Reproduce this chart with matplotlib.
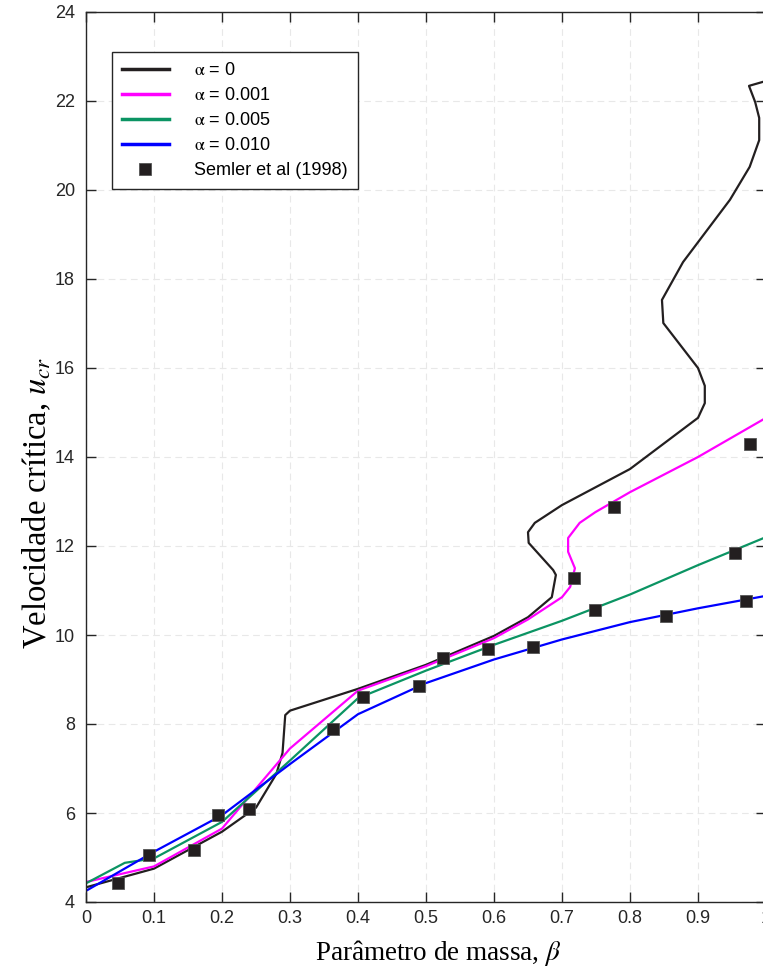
import matplotlib
matplotlib.use('Agg')
import matplotlib.pyplot as plt
import numpy as np

# dados
beta_a0 = [0, 0.1, 0.2, 0.25, 0.28, 0.289, 0.293, 0.3, 0.4, 0.5, 0.6, 0.65, 0.685, 0.691,
           0.687, 0.651, 0.65, 0.66, 0.70, 0.8, 0.9, 0.91, 0.91, 0.9, 0.849, 0.847, 0.878,
           0.947, 0.976, 0.99, 0.99, 0.984, 0.975, 1.0]
ucr_a0 = [4.33, 4.75, 5.58, 6.12, 6.88, 7.35, 8.2, 8.3, 8.79, 9.33, 9.98, 10.4, 10.85, 11.35,
          11.46, 12.07, 12.31, 12.52, 12.92, 13.73, 14.88, 15.21, 15.6, 16.0, 17.01, 17.53, 18.38,
          19.78, 20.52, 21.12, 21.62, 21.98, 22.34, 22.45]

beta_a1 = [0, 0.1, 0.2, 0.3, 0.4, 0.5, 0.6, 0.65, 0.7, 0.712, 0.719, 0.709, 0.709, 0.726,
           0.749, 0.8, 0.9, 1.0]
ucr_a1 = [4.45, 4.8, 5.65, 7.45, 8.75, 9.3, 9.93, 10.35, 10.85, 11.08, 11.5, 11.87, 12.18, 12.52,
          12.76, 13.21, 14.0, 14.88]

beta_a5 = [0, 0.057, 0.1, 0.2, 0.3, 0.4, 0.5, 0.6, 0.7, 0.8, 0.9, 1.0]
ucr_a5 = [4.42, 4.88, 4.98, 5.8, 7.18, 8.58, 9.2, 9.78, 10.32, 10.91, 11.57, 12.2]

beta_a10 = [0, 0.1, 0.2, 0.3, 0.4, 0.5, 0.6, 0.7, 0.8, 0.9, 1.0]
ucr_a10 = [4.25, 5.13, 5.95, 7.1, 8.22, 8.92, 9.45, 9.9, 10.29, 10.6, 10.88]

beta_semler = [0.0475, 0.093, 0.159, 0.194, 0.24, 0.363, 0.407, 0.49, 0.525, 0.591, 0.658,
               0.717, 0.749, 0.776, 0.853, 0.954, 0.97, 0.977]
ucr_semler = [4.42, 5.06, 5.17, 5.96, 6.08, 7.89, 8.61, 8.86, 9.49, 9.68, 9.72,
              11.29, 10.56, 12.88, 10.43, 11.84, 10.77, 14.29]

labels = [r'$\mathrm{\alpha}$ = 0', r'$\mathrm{\alpha}$ = 0.001',
          r'$\mathrm{\alpha}$ = 0.005', r'$\mathrm{\alpha}$ = 0.010', 'Semler et al (1998)']

plt.rcParams['font.family'] = ['Liberation Sans', 'DejaVu Sans']
plt.rcParams['mathtext.fontset'] = 'stix'

fig = plt.figure(figsize=(7.63, 9.69), dpi=100)
ax = fig.add_axes([86 / 763, 67 / 969, 680 / 763, 890 / 969])

escuro = '#231f20'
ax.plot(beta_a0, ucr_a0, color=escuro, lw=1.6, label=labels[0])
ax.plot(beta_a1, ucr_a1, color='#ff00ff', lw=1.6, label=labels[1])
ax.plot(beta_a5, ucr_a5, color='#0b9463', lw=1.6, label=labels[2])
ax.plot(beta_a10, ucr_a10, color='#0000ff', lw=1.6, label=labels[3])
ax.plot(beta_semler, ucr_semler, 's', color=escuro, ms=8.3, mec='#555555', mew=0.6,
        label=labels[4])

ax.set_xlim(0, 1)
ax.set_ylim(4, 24)
ax.set_xticks(np.arange(0, 1.01, 0.1))
ax.set_xticklabels(['0', '0.1', '0.2', '0.3', '0.4', '0.5', '0.6', '0.7', '0.8', '0.9', '1'])
ax.set_yticks(np.arange(4, 25, 2))

ax.grid(True, ls=(0, (6, 4)), color='#e8e8e8', lw=0.8)
ax.set_axisbelow(True)
for s in ax.spines.values():
    s.set_color('#262626')
    s.set_linewidth(1.0)
ax.tick_params(direction='in', length=7, width=1, colors='#262626', labelsize=13,
               top=True, right=True)
ax.tick_params(axis='y', pad=8)
ax.tick_params(axis='x', pad=6)

ax.set_xlabel(r'Parâmetro de massa, $\beta$', family='Liberation Serif', fontsize=19.5)
ax.set_ylabel(r'Velocidade crítica, $u_{cr}$', family='Liberation Serif', fontsize=23.5)
ax.xaxis.set_label_coords(0.518, -0.04)
ax.yaxis.set_label_coords(-0.048, 0.448)

leg = ax.legend(loc='upper left', bbox_to_anchor=(0.038, 0.955), fontsize=13,
                frameon=True, fancybox=False, framealpha=1, edgecolor='#262626',
                handlelength=2.6, handletextpad=1.4, labelspacing=0.45, borderpad=0.55,
                borderaxespad=0)
leg.get_frame().set_linewidth(1.0)
for ln in leg.get_lines()[:4]:
    ln.set_linewidth(2.5)

fig.savefig('out.png', dpi=100)
